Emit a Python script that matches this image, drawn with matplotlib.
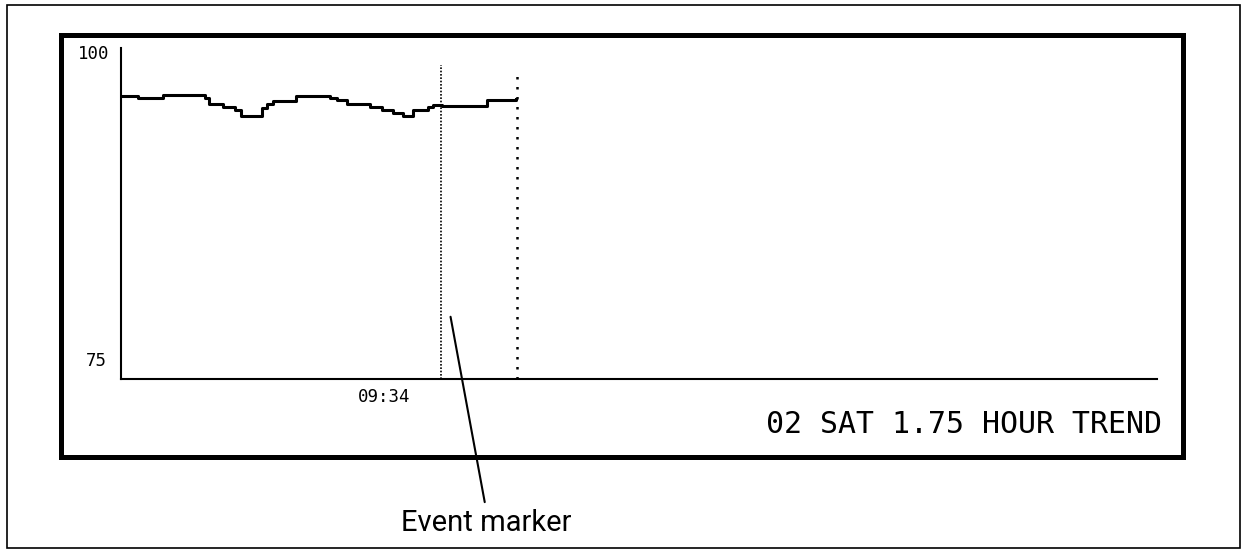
import matplotlib.pyplot as plt
from matplotlib.patches import Rectangle

# O2 saturation trend (minutes from start of window, % value)
trend_min = [0, 1.7, 4.3, 8.5, 8.9, 10.3, 11.6, 12.2, 14.3, 14.8, 15.4, 16.1, 17.7,
             21.2, 21.9, 22.9, 25.2, 26.5, 27.6, 28.6, 29.6, 31.1, 31.6, 32.5, 37.1, 40.0]
trend_val = [96.4, 96.25, 96.45, 96.2, 95.8, 95.55, 95.3, 94.9, 95.5, 95.8, 96.0, 96.0, 96.4,
             96.25, 96.05, 95.8, 95.55, 95.3, 95.1, 94.85, 95.3, 95.55, 95.7, 95.65, 96.1, 96.15]

window_min = 105  # 1.75 hours
event_min = 32.4
cursor_min = 40.1
event_top = 98.7
cursor_top = 98.1

y_ticks = [75, 100]
y_labels = ["75", "100"]
x_ticks = [26.7]
x_labels = ["09:34"]
title = "02 SAT 1.75 HOUR TREND"

mono = "DejaVu Sans Mono"

fig = plt.figure(figsize=(12.48, 5.53), dpi=100)
W, H = 1248, 553

# outer thin frame and thick monitor frame
fig.add_artist(Rectangle((7 / W, 1 - 548 / H), 1233 / W, 543 / H, transform=fig.transFigure,
                         fill=False, lw=1.2, ec="black"))
fig.add_artist(Rectangle((61 / W, 1 - 457 / H), 1122 / W, 422 / H, transform=fig.transFigure,
                         fill=False, lw=3.6, ec="black"))

ax = fig.add_axes([121 / W, 1 - 379 / H, 1036 / W, 331 / H])
ax.set_xlim(0, window_min)
ax.set_ylim(y_ticks[0], y_ticks[-1])

ax.plot(trend_min, trend_val, drawstyle="steps-post", color="black", lw=2.2)
ax.vlines(event_min, y_ticks[0], event_top, color="black", lw=1.2, linestyles=(0, (1, 1)))
ax.vlines(cursor_min, y_ticks[0], cursor_top, color="black", lw=1.8, linestyles=(0, (1, 3)))

for s in ["top", "right"]:
    ax.spines[s].set_visible(False)
for s in ["left", "bottom"]:
    ax.spines[s].set_linewidth(1.5)
ax.set_xticks([])
ax.set_yticks([])

# axis labels in monitor style
for v, lab, dy, dx in zip(y_ticks, y_labels, [13, -4], [-10, -8]):
    ax.annotate(lab, xy=(0, v), xycoords=ax.get_yaxis_transform(), xytext=(dx, dy),
                textcoords="offset points", ha="right", va="center", family=mono, fontsize=12.5)
for v, lab in zip(x_ticks, x_labels):
    ax.annotate(lab, xy=(v, 0), xycoords=ax.get_xaxis_transform(), xytext=(0, -12.6),
                textcoords="offset points", ha="center", va="center", family=mono, fontsize=12.5)

fig.text(1162 / W, 1 - 433 / H, title, ha="right", va="baseline", family=mono, fontsize=21.5)

# event marker callout
ax.annotate("Event marker", xy=(33.4, 79.7), xycoords="data",
            xytext=(486, H - 523), textcoords="figure pixels",
            ha="center", va="center", fontsize=21, family="Roboto",
            arrowprops=dict(arrowstyle="-", color="black", lw=1.5,
                            relpos=(0.5, 1.0), shrinkA=3, shrinkB=0))

plt.savefig("out.png", dpi=100)
